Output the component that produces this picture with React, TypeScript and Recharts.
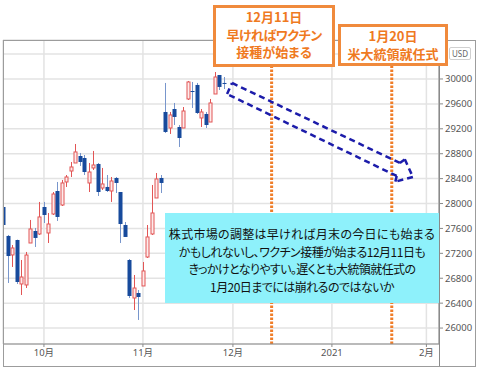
import React from "react";
import { ComposedChart, Bar, XAxis, YAxis, CartesianGrid, ReferenceLine } from "recharts";

// trading-day index, 0 = Oct 1 2020
const START_INDEX = -9;

const OPEN = [
  27944, 27479, 27174, 27414, 26708, 26692, 27366, 27559, 27511,
  27944, 27527, 27832, 28201, 27976, 28346, 28522, 28651, 28763, 28731,
  28330, 28571, 28635, 28249, 28266, 28201, 28410, 28185, 27655, 27093,
  26483, 26563, 26676, 27141, 27511, 28089, 28410, 29470, 29213, 29518,
  29229, 29213, 29679, 29807, 29904, 29374, 29438, 29309, 29759, 30064, 29936,
];
const HIGH = [
  27976, 27495, 27334, 27420, 27093, 27222, 27736, 27607, 28025,
  28025, 27848, 28185, 28346, 28378, 28458, 28667, 28956, 28812, 28779,
  28651, 28844, 28651, 28571, 28458, 28426, 28426, 28185, 27703, 27109,
  26852, 26611, 27061, 27655, 28298, 28490, 28458, 29936, 29470, 29615,
  29261, 29550, 29968, 29952, 29936, 29518, 29470, 29679, 30112, 30064, 30032,
];
const LOW = [
  27495, 26724, 26981, 26708, 26531, 26643, 27366, 27302, 27495,
  27687, 27366, 27816, 27720, 27960, 28266, 28426, 28651, 28603, 28458,
  28185, 28539, 28121, 28217, 28185, 28025, 28169, 27366, 27463, 26483,
  26290, 26130, 26676, 27125, 27495, 28089, 28169, 29133, 29117, 29261,
  28908, 29213, 29663, 29534, 29438, 29229, 29213, 29309, 29759, 29823, 29839,
];
const CLOSE = [
  27655, 27157, 27286, 26740, 26820, 27173, 27591, 27447, 27784,
  27816, 27671, 28153, 27784, 28330, 28426, 28587, 28828, 28667, 28506,
  28506, 28619, 28185, 28314, 28201, 28362, 28330, 27671, 27463, 26515,
  26643, 26499, 26917, 27463, 27848, 28394, 28330, 29149, 29422, 29390,
  29052, 29486, 29952, 29791, 29454, 29470, 29261, 29615, 30032, 29872, 29920,
];

// month ticks (trading-day index) and labels
const MONTH_TICKS = [0, 22, 42, 64, 85];
const MONTH_LABELS = ["10月", "11月", "12月", "2021", "2月"];
const PRICE_TICKS = [26000, 26400, 26800, 27200, 27600, 28000, 28400, 28800, 29200, 29600, 30000, 30400];

// events: Dec 11 vaccine, Jan 20 inauguration
const EVENT_X = [50.6, 77.3];

// hollow dashed arrow outline (index, price)
const ARROW = [
  { x: 41.8, y: 29936 },
  { x: 79.1, y: 28651 },
  { x: 80.2, y: 28710 },
  { x: 82.0, y: 28426 },
  { x: 78.1, y: 28351 },
  { x: 78.4, y: 28442 },
  { x: 40.7, y: 29759 },
  { x: 41.8, y: 29936 },
];

const NOTE_LINES = [
  "株式市場の調整は早ければ月末の今日にも始まる",
  "かもしれないし、ワクチン接種が始まる12月11日も",
  "きっかけとなりやすい。遅くとも大統領就任式の",
  "1月20日までには崩れるのではないか",
];
const NOTE_SPACING = [0.3, -0.5, -0.6, -0.55];

const data = OPEN.map((o, k) => ({
  i: START_INDEX + k,
  open: o,
  high: HIGH[k],
  low: LOW[k],
  close: CLOSE[k],
  range: [LOW[k], HIGH[k]],
}));

const UP = "#e25555";
const DOWN = "#174a9c";
const DOWN_WICK = "#7896cc";

const Candle = (props: any) => {
  const { x, y, width, height, payload } = props;
  if (x == null || payload == null) return null;
  const top = Math.min(y, y + height);
  const h = Math.abs(height);
  const { open, close, high, low } = payload;
  const k = h / Math.max(high - low, 1);
  const yOf = (v: number) => top + (high - v) * k;
  const cx = Math.round(x + width / 2) + 0.5;
  const bTop = yOf(Math.max(open, close));
  const bBot = yOf(Math.min(open, close));
  const bw = 3;
  const bx = cx - 1.5;
  if (close >= open) {
    return (
      <g>
        <line x1={cx} x2={cx} y1={yOf(high)} y2={bTop} stroke={UP} strokeWidth={1} />
        <line x1={cx} x2={cx} y1={bBot} y2={yOf(low)} stroke={UP} strokeWidth={1} />
        <rect x={bx} y={bTop} width={bw} height={Math.max(bBot - bTop, 1)} fill="#fdecec" stroke={UP} strokeWidth={1} />
      </g>
    );
  }
  return (
    <g>
      <line x1={cx} x2={cx} y1={yOf(high)} y2={yOf(low)} stroke={DOWN_WICK} strokeWidth={1} />
      <rect x={bx - 0.5} y={bTop} width={bw + 1} height={Math.max(bBot - bTop, 1)} fill={DOWN} />
    </g>
  );
};

const tickStyle = { fill: "#555", fontSize: 9.5, fontFamily: "'Noto Sans', 'Noto Sans CJK JP', sans-serif" };
const jp = "'Noto Sans CJK JP', sans-serif";

const orangeBox = {
  position: "absolute" as const,
  boxSizing: "border-box" as const,
  border: "3px solid #f08a3c",
  background: "#fff",
  color: "#ef7a1f",
  fontWeight: 700,
  fontSize: 13,
  lineHeight: "17.5px",
  textAlign: "center" as const,
  whiteSpace: "nowrap" as const,
  fontFeatureSettings: '"palt"',
};

export default function App() {
  return (
    <div style={{ position: "absolute", left: 0, top: 0, width: 478, height: 369, background: "#fff", fontFamily: jp }}>
      <ComposedChart
        width={478}
        height={369}
        data={data}
        margin={{ top: 40, right: 3, bottom: 3, left: 3 }}
      >
        <CartesianGrid stroke="#e3e3e3" strokeWidth={1.5} />
        <XAxis
          dataKey="i"
          type="number"
          domain={[-9.1, 87.8]}
          allowDataOverflow
          ticks={MONTH_TICKS}
          tickFormatter={(v: number) => MONTH_LABELS[MONTH_TICKS.indexOf(v)] ?? ""}
          height={22}
          tickSize={3}
          stroke="#8a8a8a"
          tick={tickStyle}
        />
        <YAxis
          orientation="right"
          width={36}
          domain={[25744, 30626]}
          allowDataOverflow
          ticks={PRICE_TICKS}
          tickFormatter={(v: number) => (v === 30400 ? "" : String(v))}
          tickSize={4}
          stroke="#8a8a8a"
          tick={{ ...tickStyle, textAnchor: "start" }}
        />
        <Bar dataKey="range" barSize={4} shape={<Candle />} isAnimationActive={false} />
        {EVENT_X.map((x) => (
          <ReferenceLine key={x} x={x} stroke="#f07d28" strokeWidth={3} strokeDasharray="2.5 1.5" />
        ))}
        {ARROW.slice(1).map((p, k) => (
          <ReferenceLine
            key={k}
            segment={[ARROW[k], p]}
            stroke="#1c1caa"
            strokeWidth={2.5}
            strokeDasharray="6 4"
            ifOverflow="visible"
          />
        ))}
      </ComposedChart>

      {/* frame */}
      <div style={{ position: "absolute", left: 3, top: 40, width: 471, height: 325, border: "1px solid #9c9c9c", pointerEvents: "none" }} />
      <div style={{ position: "absolute", left: 439, top: 40, width: 1, height: 326, background: "#8a8a8a" }} />

      <div style={{ position: "absolute", left: 449, top: 47, width: 20, height: 11, border: "1px solid #d0d0d0", borderRadius: 2, fontSize: 8, lineHeight: "11px", color: "#666", textAlign: "center", fontFamily: "'Noto Sans', sans-serif" }}>
        USD
      </div>

      <div style={{ position: "absolute", left: 165, top: 213, width: 274, height: 90, background: "#8ef1fb", color: "#111", fontSize: 12, lineHeight: "17.5px", textAlign: "center", boxSizing: "border-box", paddingTop: 12, whiteSpace: "nowrap", fontFeatureSettings: '"palt"' }}>
        {NOTE_LINES.map((t, k) => (
          <div key={k} style={{ letterSpacing: NOTE_SPACING[k] }}>{t}</div>
        ))}
      </div>

      <div style={{ ...orangeBox, left: 213, top: 5, width: 122, height: 62 }}>
        12月11日<br /><span style={{ letterSpacing: -0.5 }}>早ければワクチン</span><br />接種が始まる
      </div>
      <div style={{ ...orangeBox, left: 338, top: 24, width: 110, height: 42 }}>
        1月20日<br />米大統領就任式
      </div>
    </div>
  );
}
